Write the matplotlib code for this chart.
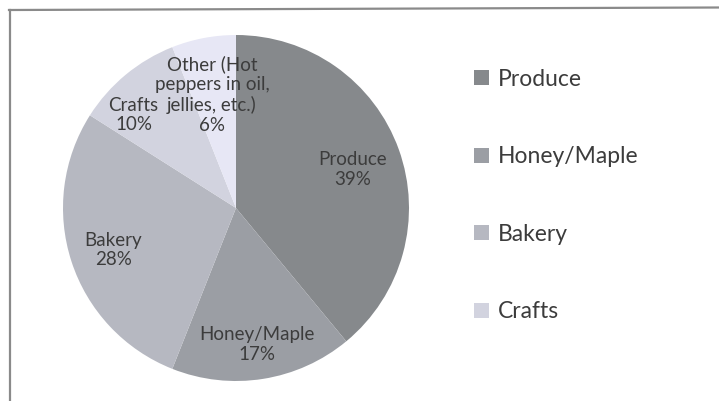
import numpy as np
import matplotlib.pyplot as plt
from matplotlib.patches import Patch
from matplotlib.lines import Line2D

# Share of vendor sales by category
categories = ["Produce", "Honey/Maple", "Bakery", "Crafts",
              "Other (Hot\npeppers in oil,\njellies, etc.)"]
shares = [39, 17, 28, 10, 6]
colors = ["#86898c", "#9b9ea4", "#b6b8c1", "#d2d3df", "#e7e7f5"]
legend_count = 4  # the last category does not fit in the legend box

# label placement: fraction of the radius, and a nudge off the wedge middle (deg)
label_radius = [0.71, 0.80, 0.75, 0.80, 0.67]
label_nudge = [-1.4, -0.3, 0.9, 8.2, 1.2]

plt.rcParams["font.family"] = ["Lato", "DejaVu Sans"]
text_color = "#3c3c3c"

fig = plt.figure(figsize=(7.19, 4.01), dpi=100)
W, H = 719, 401

# pie axes: centre (236, 208) px, radius 173 px
cx, cy, r = 236, 208, 173
ax = fig.add_axes([(cx - r) / W, (H - cy - r) / H, 2 * r / W, 2 * r / H])
wedges, _ = ax.pie(shares, colors=colors, startangle=90, counterclock=False,
                   radius=1.0, wedgeprops=dict(linewidth=0))
ax.set_xlim(-1, 1)
ax.set_ylim(-1, 1)
ax.set_aspect("auto")
ax.axis("off")

for w, name, val, d, nudge in zip(wedges, categories, shares,
                                  label_radius, label_nudge):
    mid = np.deg2rad((w.theta1 + w.theta2) / 2 + nudge)
    ax.text(d * np.cos(mid), d * np.sin(mid), f"{name}\n{val}%",
            ha="center", va="center", fontsize=13.5, color=text_color,
            linespacing=1.2)

handles = [Patch(facecolor=c, edgecolor="none") for c in colors[:legend_count]]
fig.legend(handles, categories[:legend_count], loc="upper left",
           bbox_to_anchor=(453 / W, 1 - 48 / H), frameon=False,
           fontsize=16.5, labelcolor=text_color, handlelength=0.65,
           handleheight=0.65, handletextpad=0.4, labelspacing=2.47)

# chart frame (left and top edges)
fig.add_artist(Line2D([10 / W, 10 / W], [0, 1 - 10 / H], color="#8a8a8a",
                      linewidth=1.6, transform=fig.transFigure))
fig.add_artist(Line2D([9 / W, 1], [1 - 10 / H, 1 - 7.5 / H], color="#8a8a8a",
                      linewidth=1.6, transform=fig.transFigure))

fig.savefig("out.png", dpi=100)
